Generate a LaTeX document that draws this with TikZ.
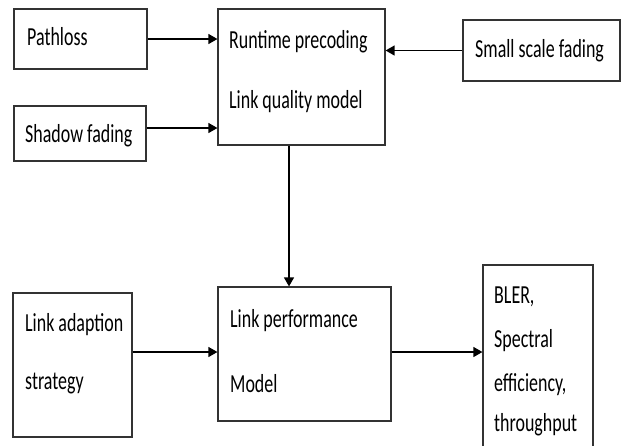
\documentclass[tikz,border=0pt]{standalone}
\usepackage{fontspec}
\setmainfont[FakeStretch=0.69]{Carlito}
\usetikzlibrary{arrows.meta}
\begin{document}
\begin{tikzpicture}[x=1pt,y=-1pt,
  box/.style={draw=black!80,line width=1.2pt,inner sep=0pt},
  lbl/.style={anchor=base west,inner sep=0pt,font=\fontsize{26}{30}\selectfont},
  arr/.style={draw=black,line width=1.3pt,-{Triangle[length=9pt,width=10pt]}}]
\clip (0,0) rectangle (621,445);
% boxes
\node[box,minimum width=133pt,minimum height=60pt] (pl) at (80.5,39) {};
\node[box,minimum width=132pt,minimum height=55pt] (sh) at (80,133.5) {};
\node[box,minimum width=167pt,minimum height=136pt] (rt) at (301.5,77) {};
\node[box,minimum width=157pt,minimum height=61pt] (sf) at (541.5,50.5) {};
\node[box,minimum width=119pt,minimum height=144pt] (la) at (72.5,365) {};
\node[box,minimum width=173pt,minimum height=134pt] (lp) at (304.5,354) {};
\node[box,minimum width=110pt,minimum height=190pt] (bl) at (538,360) {};
% texts
\node[lbl] (tpl) at (27,45) {Pathloss};
\node[lbl] (tsh) at (25,142) {Shadow fading};
\node[lbl] (trt1) at (229,48) {Runtime precoding};
\node[lbl] (trt2) at (229,108) {Link quality model};
\node[lbl] (tsf) at (475,57) {Small scale fading};
\node[lbl] (tla1) at (25,331) {Link adaption};
\node[lbl] (tla2) at (25,389) {strategy};
\node[lbl] (tlp1) at (230,327) {Link performance};
\node[lbl] (tlp2) at (230,392) {Model};
\node[lbl] (tbl1) at (494,303) {BLER,};
\node[lbl] (tbl2) at (494,347) {Spectral};
\node[lbl] (tbl3) at (494,391) {efficiency,};
\node[lbl] (tbl4) at (494,431) {throughput};
% helper coordinates
\coordinate (ysh) at (0,128);
\coordinate (xv) at (289,0);
\coordinate (ybot) at (0,352);
% connectors
\draw[arr] (pl.east) -- (pl.east -| rt.west);
\draw[arr] (sh.east |- ysh) -- (rt.west |- ysh);
\draw[arr] (sf.west) -- (sf.west -| rt.east);
\draw[arr] (rt.south -| xv) -- (lp.north -| xv);
\draw[arr] (la.east |- ybot) -- (lp.west |- ybot);
\draw[arr] (lp.east |- ybot) -- (bl.west |- ybot);
\end{tikzpicture}
\end{document}
